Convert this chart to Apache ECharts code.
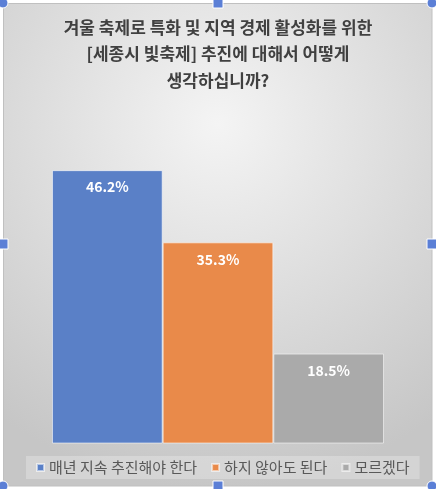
<!DOCTYPE html>
<html style="height: 100%">
	<head>
		<meta charset="utf-8"/>
		<script type="text/javascript" src="https://cdn.jsdelivr.net/npm/echarts@6/dist/echarts.min.js"></script>
	</head>
	<body style="height: 100%;margin: 0;background: #fff">
		<div id="container" style="width: 436px;height: 489px"></div>
		<script type="text/javascript">
			// data
			var titleLines = ["겨울 축제로 특화 및 지역 경제 활성화를 위한", "[세종시 빛축제] 추진에 대해서 어떻게", "생각하십니까?"];
			var seriesNames = ["매년 지속 추진해야 한다", "하지 않아도 된다", "모르겠다"];
			var seriesValues = [46.2, 35.3, 18.5];
			var seriesColors = ["#5a80c7", "#e98a4a", "#aaaaaa"];

			var container = document.getElementById("container");
			var myChart = echarts.init(container);

			var series = [];
			for (var i = 0; i < seriesNames.length; i++) {
				series.push({
					name: seriesNames[i],
					type: "bar",
					data: [seriesValues[i]],
					barGap: "0%",
					barCategoryGap: "0%",
					itemStyle: {
						color: seriesColors[i],
						borderColor: "rgba(255,255,255,0.55)",
						borderWidth: 1
					},
					label: {
						show: true,
						position: "insideTop",
						distance: 10,
						color: "#fff",
						fontWeight: "bold",
						fontSize: 14,
						fontFamily: "Noto Sans CJK KR",
						formatter: function (p) { return p.value.toFixed(1) + "%"; }
					}
				});
			}

			// selection handles round the chart area
			var handles = [];
			var sq = [[218, 3], [3, 244], [432, 244], [218, 486]];
			for (var i = 0; i < sq.length; i++) {
				handles.push({
					type: "rect", z: 100,
					shape: { x: sq[i][0] - 5, y: sq[i][1] - 5, width: 10, height: 10 },
					style: { fill: "#5b7fd6", stroke: "#fff", lineWidth: 1 }
				});
			}
			var ci = [[3, 3], [432, 3], [3, 486], [432, 486]];
			for (var i = 0; i < ci.length; i++) {
				handles.push({
					type: "circle", z: 100,
					shape: { cx: ci[i][0], cy: ci[i][1], r: 5 },
					style: { fill: "#5b7fd6", stroke: "#fff", lineWidth: 1 }
				});
			}

			var option = {
				animation: false,
				title: {
					text: titleLines.join("\n"),
					left: "center",
					top: 9,
					textStyle: {
						fontFamily: "Noto Sans CJK KR",
						fontSize: 17,
						fontWeight: "bold",
						color: "#404040",
						lineHeight: 26.5
					}
				},
				legend: {
					bottom: 10,
					left: 26,
					itemWidth: 7,
					itemHeight: 7,
					itemGap: 14,
					icon: "rect",
					padding: [4, 10],
					backgroundColor: "rgba(255,255,255,0.25)",
					textStyle: {
						fontFamily: "Noto Sans CJK KR",
						fontSize: 15,
						color: "#595959"
					},
					data: seriesNames
				},
				grid: {
					left: 52,
					right: 52,
					top: 145,
					bottom: 46
				},
				xAxis: {
					type: "category",
					data: [""],
					axisLine: { show: false },
					axisTick: { show: false },
					axisLabel: { show: false }
				},
				yAxis: {
					type: "value",
					min: 5,
					max: 50,
					show: false,
					splitLine: { show: false }
				},
				graphic: [{
					type: "rect", z: -10, silent: true,
					shape: { x: 3.5, y: 3.5, width: 428.5, height: 482.5 },
					style: {
						fill: new echarts.graphic.RadialGradient(0.5, 0.25, 0.85, [
							{ offset: 0, color: "#f4f4f4" },
							{ offset: 1, color: "#c6c6c6" }
						]),
						stroke: "#c0c0c0",
						lineWidth: 1
					}
				}].concat(handles),
				series: series
			};

			myChart.setOption(option, true);
		</script>
	</body>
</html>
